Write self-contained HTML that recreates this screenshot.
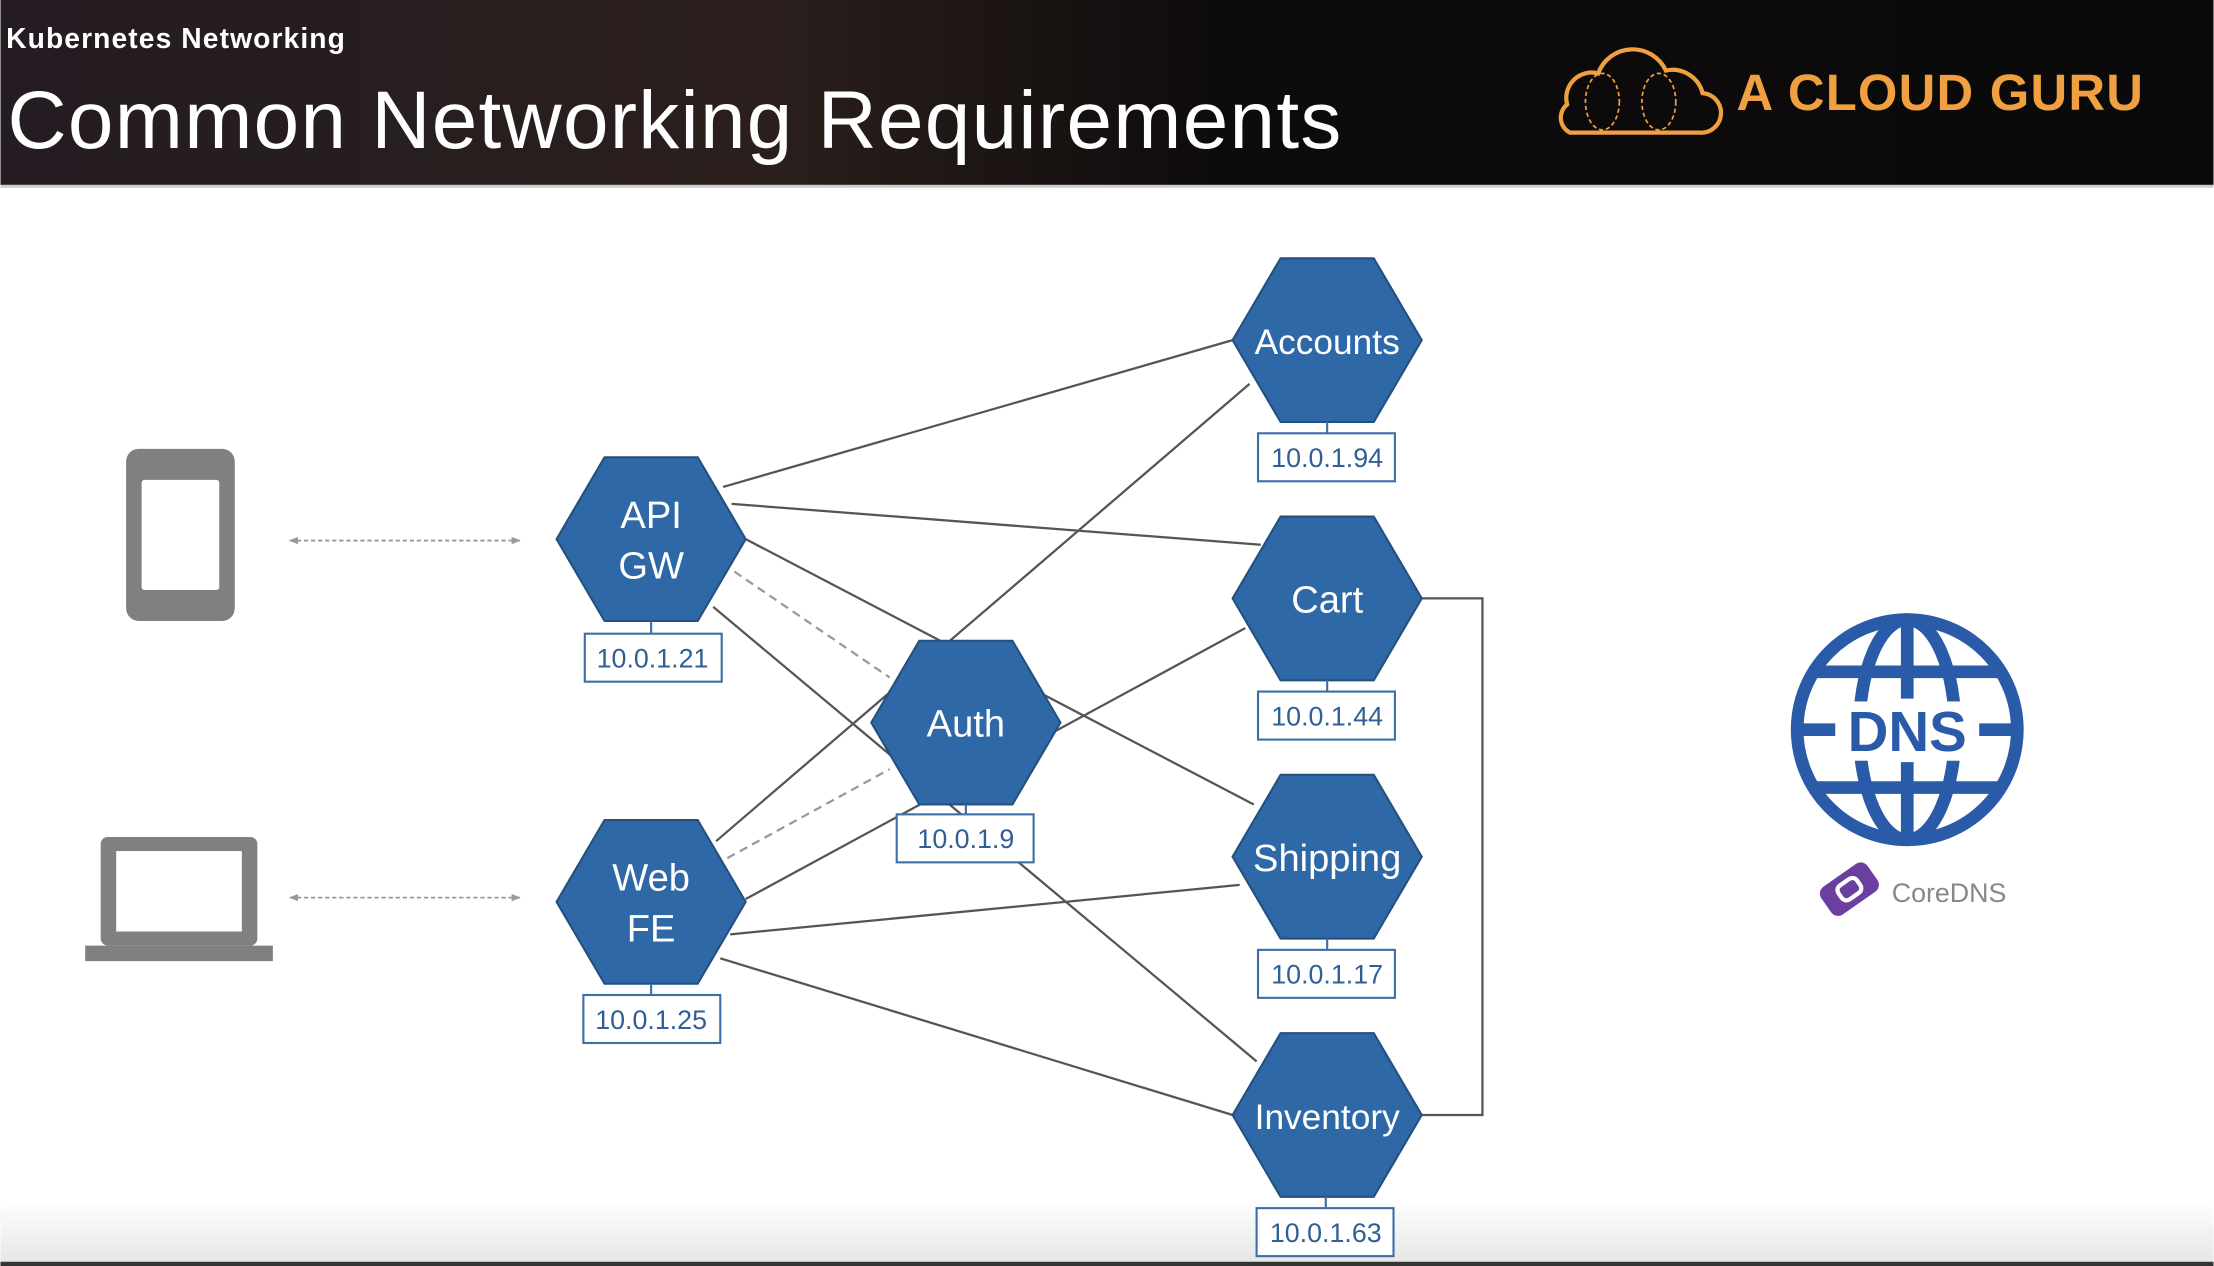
<!DOCTYPE html>
<html><head><meta charset="utf-8"><style>
html,body{margin:0;padding:0;background:#fff;}
svg{display:block;}
</style></head><body>
<svg width="2214" height="1266" viewBox="0 0 1568 897" xmlns="http://www.w3.org/2000/svg" font-family="Liberation Sans, sans-serif">
<defs>
<linearGradient id="hd" x1="0" x2="1" y1="0" y2="0">
<stop offset="0" stop-color="#241c22"/><stop offset="0.35" stop-color="#2a1f1c"/><stop offset="0.55" stop-color="#0e0b0b"/><stop offset="1" stop-color="#0a0a0a"/></linearGradient>
<linearGradient id="ft" x1="0" x2="0" y1="0" y2="1"><stop offset="0" stop-color="#fff"/><stop offset="1" stop-color="#e6e6e6"/></linearGradient>
<marker id="ar" viewBox="0 0 10 10" refX="9" refY="5" markerWidth="5" markerHeight="5" orient="auto-start-reverse"><path d="M0,1 L10,5 L0,9z" fill="#999"/></marker>
</defs>
<rect width="1568" height="131" fill="url(#hd)"/>
<rect x="0" y="131" width="1568" height="2" fill="#ccc"/>
<rect x="0" y="850" width="1568" height="45" fill="url(#ft)"/>
<rect x="0" y="894" width="1568" height="3" fill="#333"/>
<text x="4" y="34" fill="#fff" font-size="20" font-weight="bold" textLength="240">Kubernetes Networking</text>
<text x="5" y="105" fill="#fff" font-size="58" textLength="945">Common Networking Requirements</text>
<g fill="none" stroke="#f0a040" stroke-width="3">
<path d="M1112,94 h92 a14,14 0 0 0 2,-28 a22,22 0 0 0 -26,-16 a26,26 0 0 0 -48,2 a18,18 0 0 0 -22,22 a12,12 0 0 0 2,20z"/>
<ellipse cx="1135" cy="72" rx="12" ry="20" stroke-width="1.2" stroke-dasharray="3 2"/>
<ellipse cx="1175" cy="72" rx="12" ry="20" stroke-width="1.2" stroke-dasharray="3 2"/>
</g>
<text x="1230" y="78" fill="#f0a040" font-size="36" font-weight="bold" textLength="288">A CLOUD GURU</text>

<g stroke="#555" stroke-width="1.6" fill="none">
<line x1="512" y1="345" x2="873" y2="241"/>
<line x1="518" y1="357" x2="893" y2="386"/>
<line x1="528" y1="382" x2="888" y2="570"/>
<line x1="505" y1="430" x2="890" y2="752"/>
<line x1="507" y1="596" x2="885" y2="272"/>
<line x1="528" y1="637" x2="882" y2="445"/>
<line x1="517" y1="662" x2="878" y2="627"/>
<line x1="510" y1="679" x2="873" y2="790"/>
<polyline points="1007,424 1050,424 1050,790 1007,790"/>
</g>
<g stroke="#999" stroke-width="1.6" stroke-dasharray="6 4">
<line x1="520" y1="405" x2="630" y2="480"/>
<line x1="515" y1="608" x2="630" y2="545"/>
</g>
<g stroke="#999" stroke-width="1.3" stroke-dasharray="3 2" marker-start="url(#ar)" marker-end="url(#ar)">
<line x1="205" y1="383" x2="368" y2="383"/>
<line x1="205" y1="636" x2="368" y2="636"/>
</g>

<g fill="#2f68a6" stroke="#24507f" stroke-width="1.5">
<polygon points="873,241 907,183 973,183 1007,241 973,299 907,299"/>
<polygon points="394,382 428,324 494,324 528,382 494,440 428,440"/>
<polygon points="394,639 428,581 494,581 528,639 494,697 428,697"/>
<polygon points="617,512 651,454 717,454 751,512 717,570 651,570"/>
<polygon points="873,424 907,366 973,366 1007,424 973,482 907,482"/>
<polygon points="873,607 907,549 973,549 1007,607 973,665 907,665"/>
<polygon points="873,790 907,732 973,732 1007,790 973,848 907,848"/>
</g>
<g stroke="#3d6fa6" stroke-width="1.5" fill="#fff">
<line x1="940" y1="299" x2="940" y2="307"/><rect x="891" y="307" width="97" height="34"/>
<line x1="461" y1="440" x2="461" y2="449"/><rect x="414" y="449" width="97" height="34"/>
<line x1="461" y1="697" x2="461" y2="705"/><rect x="413" y="705" width="97" height="34"/>
<line x1="684" y1="570" x2="684" y2="577"/><rect x="635" y="577" width="97" height="34"/>
<line x1="940" y1="482" x2="940" y2="490"/><rect x="891" y="490" width="97" height="34"/>
<line x1="940" y1="665" x2="940" y2="673"/><rect x="891" y="673" width="97" height="34"/>
<line x1="939" y1="848" x2="939" y2="856"/><rect x="890" y="856" width="97" height="34"/>
</g>
<g fill="#2f5f95" font-size="19" text-anchor="middle">
<text x="940" y="331">10.0.1.94</text>
<text x="462" y="473">10.0.1.21</text>
<text x="461" y="729">10.0.1.25</text>
<text x="684" y="601">10.0.1.9</text>
<text x="940" y="514">10.0.1.44</text>
<text x="940" y="697">10.0.1.17</text>
<text x="939" y="880">10.0.1.63</text>
</g>
<g fill="#fff" font-size="27" text-anchor="middle">
<text x="940" y="251" font-size="25">Accounts</text>
<text x="461" y="374">API</text><text x="461" y="410">GW</text>
<text x="461" y="631">Web</text><text x="461" y="667">FE</text>
<text x="684" y="522">Auth</text>
<text x="940" y="434">Cart</text>
<text x="940" y="617">Shipping</text>
<text x="940" y="800" font-size="25">Inventory</text>
</g>

<rect x="89" y="318" width="77" height="122" rx="9" fill="#808080"/>
<rect x="100" y="340" width="55" height="78" rx="2" fill="#fff"/>
<rect x="71" y="593" width="111" height="77" rx="5" fill="#808080"/>
<rect x="82" y="603" width="89" height="57" fill="#fff"/>
<rect x="60" y="670" width="133" height="11" fill="#808080"/>

<g fill="none" stroke="#2a5ba8" stroke-width="9">
<circle cx="1351" cy="517" r="78"/>
<ellipse cx="1351" cy="517" rx="34" ry="78"/>
<line x1="1351" y1="439" x2="1351" y2="495"/><line x1="1351" y1="540" x2="1351" y2="595"/>
<line x1="1285" y1="476" x2="1417" y2="476"/><line x1="1285" y1="558" x2="1417" y2="558"/>
</g>
<rect x="1290" y="497" width="122" height="42" fill="#fff"/>
<line x1="1273" y1="517" x2="1300" y2="517" stroke="#2a5ba8" stroke-width="9"/>
<line x1="1402" y1="517" x2="1429" y2="517" stroke="#2a5ba8" stroke-width="9"/>
<text x="1351" y="532" fill="#2a5ba8" font-size="40" font-weight="bold" text-anchor="middle">DNS</text>
<g transform="translate(1310,630) rotate(-35)">
<rect x="-20" y="-12" width="40" height="24" rx="6" fill="#6b3fa0"/>
<rect x="-8" y="-6" width="16" height="12" rx="4" fill="none" stroke="#fff" stroke-width="3"/>
</g>
<text x="1340" y="639" fill="#888" font-size="19">CoreDNS</text>
</svg>
</body></html>
